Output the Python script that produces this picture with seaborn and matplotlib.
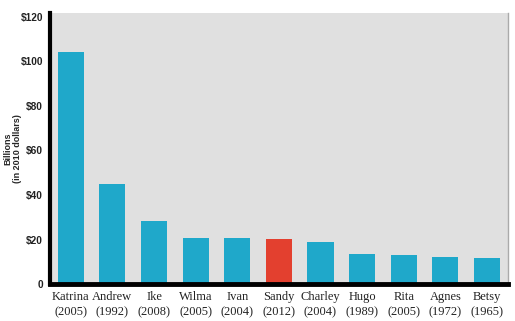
import matplotlib
matplotlib.use("Agg")
import matplotlib.pyplot as plt
import seaborn as sns
import pandas as pd

names = ["Katrina", "Andrew", "Ike", "Wilma", "Ivan", "Sandy", "Charley", "Hugo", "Rita", "Agnes", "Betsy"]
years = ["2005", "1992", "2008", "2005", "2004", "2012", "2004", "1989", "2005", "1972", "1965"]
damage = [104.3, 44.8, 28.5, 20.5, 20.5, 20.1, 18.7, 13.6, 12.9, 12.1, 11.7]
highlight = "Sandy"
ytick_vals = [0, 20, 40, 60, 80, 100, 120]
ytick_labels = ["0", "$20", "$40", "$60", "$80", "$100", "$120"]

blue = "#1fa8ca"
red = "#e3402f"

sns.set_style("white")
plt.rcParams["font.family"] = ["Liberation Sans", "DejaVu Sans"]

labels = [f"{n}\n({y})" for n, y in zip(names, years)]
df = pd.DataFrame({"label": labels, "damage": damage})
palette = {l: (red if n == highlight else blue) for l, n in zip(labels, names)}

fig = plt.figure(figsize=(5.15, 3.21), dpi=100)
ax = fig.add_axes([0.097, 0.115, 0.889, 0.845])
ax.set_facecolor("#e0e0e0")
sns.barplot(data=df, x="label", y="damage", hue="label", palette=palette,
            legend=False, width=0.63, saturation=1, linewidth=0, ax=ax)

ax.set_xlim(-0.5, len(names) - 0.5)
ax.set_ylim(0, 121.8)
ax.set_yticks(ytick_vals)
ax.set_yticklabels(ytick_labels, fontsize=7.3, fontweight="bold", color="#222222")
ax.tick_params(axis="both", length=0)
ax.tick_params(axis="y", pad=5)
ax.tick_params(axis="x", pad=5)
for t in ax.get_xticklabels():
    t.set_fontfamily(["Liberation Serif", "DejaVu Serif"])
    t.set_fontsize(9)
    t.set_color("#222222")
    t.set_linespacing(1.35)
ax.set_xlabel("")
ax.set_ylabel("Billions\n(in 2010 dollars)", fontsize=6.5, fontweight="bold",
              linespacing=1.15, va="center")
ax.yaxis.set_label_coords(-0.082, 0.5)

ax.spines["left"].set_linewidth(3)
ax.spines["left"].set_color("black")
ax.spines["bottom"].set_linewidth(3.5)
ax.spines["bottom"].set_color("black")
ax.spines["top"].set_visible(False)
ax.spines["right"].set_linewidth(1)
ax.spines["right"].set_color("#aaaaaa")

fig.savefig("out.png", dpi=100)
